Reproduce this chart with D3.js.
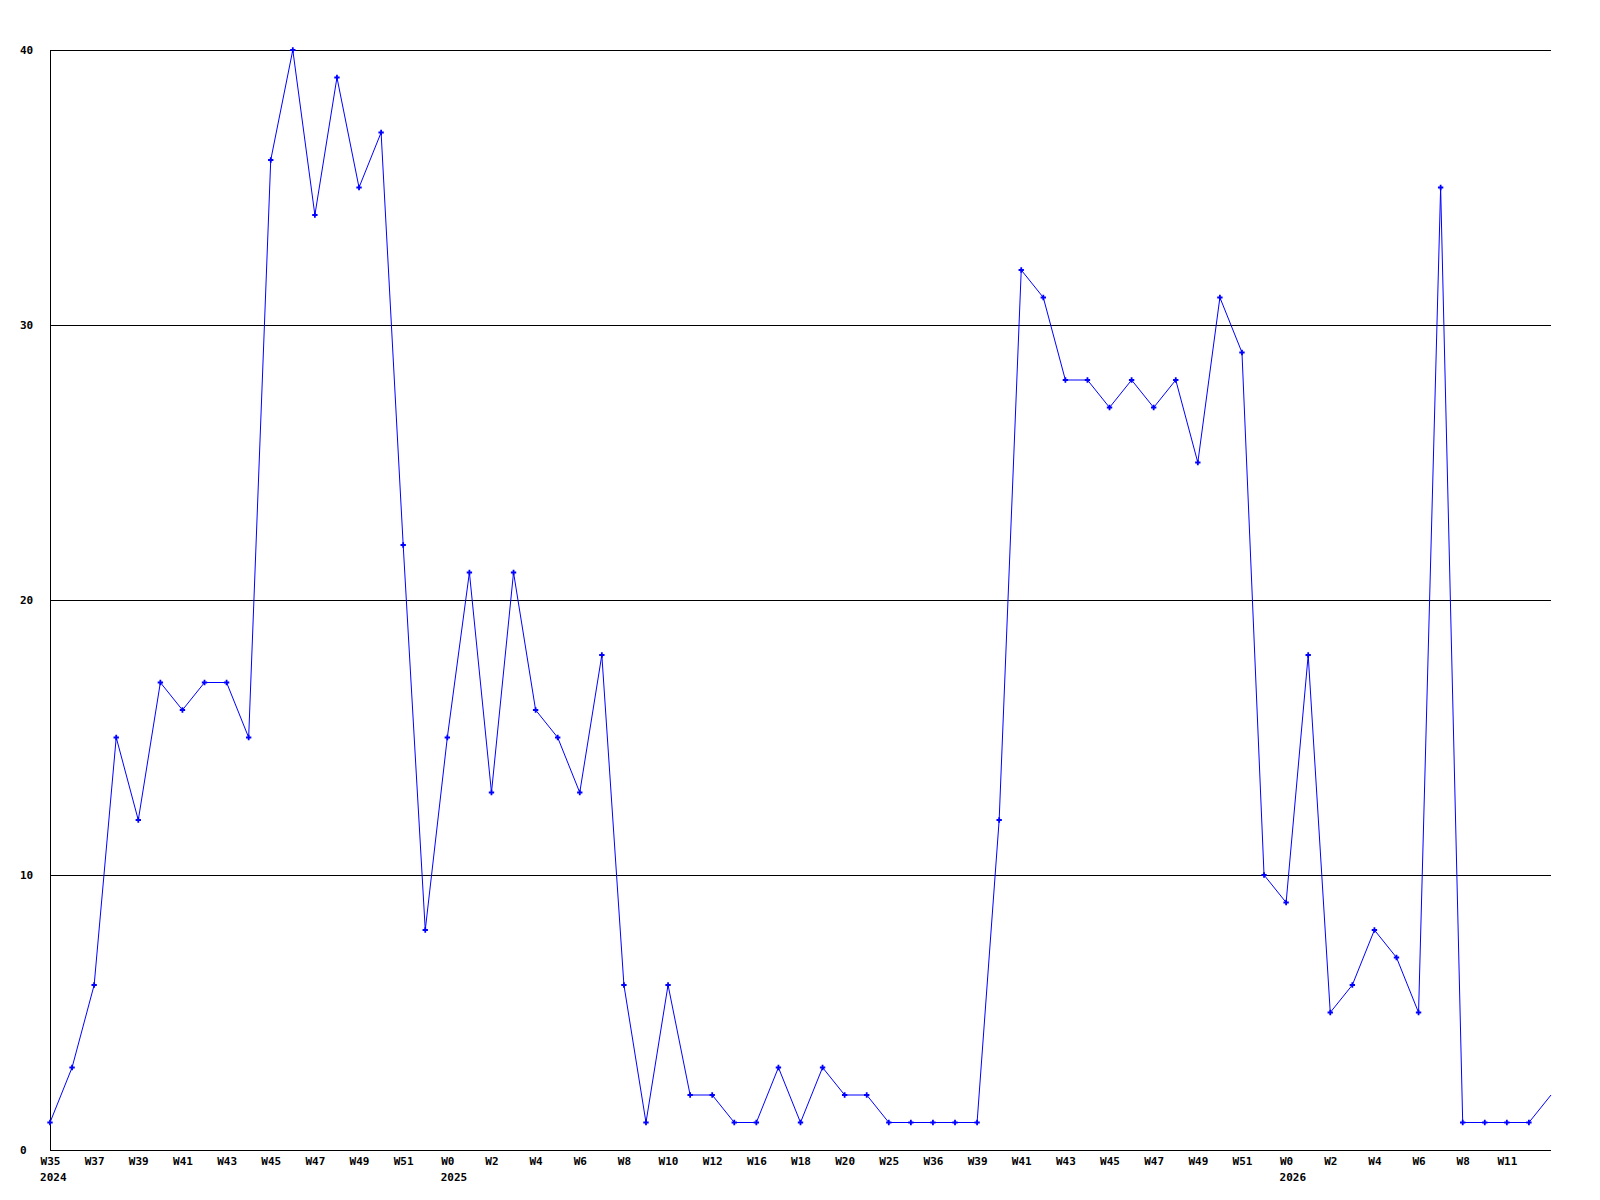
<html>
<head>
<style>
body { margin: 0; background: #fff; }
text { font-family: "DejaVu Sans Mono", monospace; font-weight: bold; font-size: 11px; fill: #000; }
.grid { stroke: #000; stroke-width: 1; shape-rendering: crispEdges; }
.dataLine { fill: none; stroke: #0000ff; stroke-width: 1; }
.dataDot { fill: #0000ff; }
</style>
</head>
<body>
<div id="vis"></div>
<script src="https://cdn.jsdelivr.net/npm/d3@7"></script>
<script>
// weekly counts, one per point
var values = [1, 3, 6, 15, 12, 17, 16, 17, 17, 15,
              36, 40, 34, 39, 35, 37, 22, 8, 15, 21,
              13, 21, 16, 15, 13, 18, 6, 1, 6, 2,
              2, 1, 1, 3, 1, 3, 2, 2, 1, 1,
              1, 1, 1, 12, 32, 31, 28, 28, 27, 28,
              27, 28, 25, 31, 29, 10, 9, 18, 5, 6,
              8, 7, 5, 35, 1, 1, 1, 1, 2];

// labels shown under every second point
var weekLabels = ["W35", "W37", "W39", "W41", "W43", "W45", "W47", "W49", "W51", "W0",
                  "W2", "W4", "W6", "W8", "W10", "W12", "W16", "W18", "W20", "W25",
                  "W36", "W39", "W41", "W43", "W45", "W47", "W49", "W51", "W0", "W2",
                  "W4", "W6", "W8", "W11"];

// year marks: point index and text
var yearIndex = [0, 18, 56];
var yearLabels = ["2024", "2025", "2026"];

var yTicks = [0, 10, 20, 30, 40];

var margin = {top: 50, right: 49, bottom: 50, left: 50},
    width = 1600 - margin.left - margin.right,
    height = 1200 - margin.top - margin.bottom;

var x = d3.scaleLinear()
    .domain([0, values.length - 1])
    .range([0, width]);
var y = d3.scaleLinear()
    .domain([0, 40])
    .range([height, 0]);

var svg = d3.select("#vis").append("svg")
    .attr("width", 1600)
    .attr("height", 1200)
  .append("g")
    .attr("transform", "translate(" + margin.left + "," + margin.top + ")");

// horizontal grid lines
svg.selectAll(".grid")
    .data(yTicks)
  .enter().append("line")
    .attr("class", "grid")
    .attr("x1", 0)
    .attr("x2", width)
    .attr("y1", function(d) { return y(d); })
    .attr("y2", function(d) { return y(d); });

// left axis line
svg.append("line")
    .attr("class", "grid")
    .attr("x1", 0).attr("x2", 0)
    .attr("y1", 0).attr("y2", height);

// y labels, left aligned at x=20
svg.selectAll(".ylab")
    .data(yTicks)
  .enter().append("text")
    .attr("class", "ylab")
    .attr("x", 20 - margin.left)
    .attr("y", function(d) { return y(d); })
    .attr("dy", "0.35em")
    .text(function(d) { return d; });

// x labels via the axis, every second point
var xAxis = d3.axisBottom(x)
    .tickValues(d3.range(0, values.length, 2))
    .tickSize(0)
    .tickPadding(0)
    .tickFormat(function(d) { return weekLabels[d / 2]; });

var gx = svg.append("g")
    .attr("transform", "translate(0," + height + ")")
    .call(xAxis);
gx.select(".domain").remove();
gx.selectAll("text")
    .attr("y", 15)
    .attr("dy", null)
    .attr("font-family", null)
    .attr("font-size", null);

// year text starts where the week label under it starts
svg.selectAll(".year")
    .data(yearLabels)
  .enter().append("text")
    .attr("class", "year")
    .attr("x", function(d, i) {
        var lab = weekLabels[yearIndex[i] / 2];
        var w = lab.length * 6.6;
        return x(yearIndex[i]) - w / 2;
    })
    .attr("y", height + 31)
    .text(function(d) { return d; });

// the data line
var line = d3.line()
    .x(function(d, i) { return x(i); })
    .y(function(d) { return y(d); });

svg.append("path")
    .datum(values)
    .attr("class", "dataLine")
    .attr("d", line);

var marker = d3.symbol().type(d3.symbolCross).size(16);
svg.selectAll(".dataDot")
    .data(values.map(function(v, i) { return {v: v, i: i}; })
                .filter(function(d) { return x(d.i) < width; }))
  .enter().append("path")
    .attr("class", "dataDot")
    .attr("d", marker)
    .attr("transform", function(d) { return "translate(" + x(d.i) + "," + y(d.v) + ")"; });
</script>
</body>
</html>
